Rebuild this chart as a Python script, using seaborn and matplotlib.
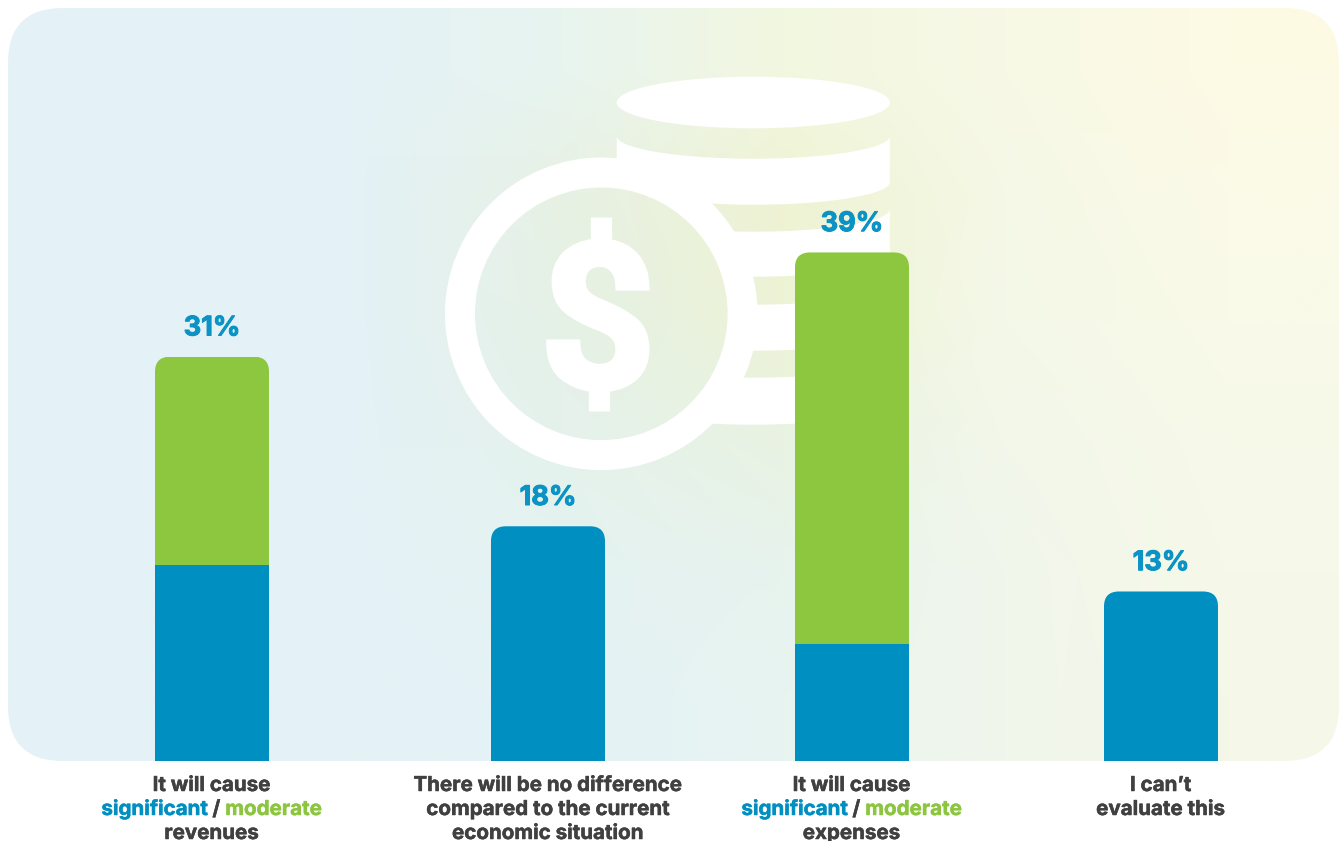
import numpy as np
import pandas as pd
import matplotlib
matplotlib.use("Agg")
import matplotlib.pyplot as plt
import matplotlib.patheffects as pe
from matplotlib.colors import to_rgb
from matplotlib.patches import Circle, Ellipse, FancyBboxPatch, Polygon
import seaborn as sns

# Survey shares, in percent
significant = [15, 18, 9, 13]
moderate = [16, 0, 30, 0]
label_lines = [
    ["It will cause", "significant / moderate", "revenues"],
    ["There will be no difference", "compared to the current", "economic situation"],
    ["It will cause", "significant / moderate", "expenses"],
    ["I can’t", "evaluate this"],
]

# Layout, in pixels
W, H = 1341, 841
BASELINE = 761
PX_PER_PCT = 13.04
centers = [212, 548, 852, 1161]
BAR_W = 114
BLUE, GREEN, GREY = "#008fc1", "#8dc63f", "#404040"
FONT = "Inter"

# Panel backdrop colours on a coarse grid (rows top to bottom, columns left to right)
wash_rows = [
    ["#e4f2f7", "#e4f2f7", "#e8f4ef", "#f2f7e0", "#f7f9e6", "#fdfae4"],
    ["#e4f2f7", "#e4f2f7", "#e7f1e4", "#eff3d3", "#f5f8e6", "#fbfae8"],
    ["#e4f2f7", "#e4f2f7", "#e5f1e6", "#edf3d6", "#f4f8e8", "#f9fae8"],
    ["#e4f2f7", "#e4f2f7", "#e5f2ec", "#e9f3e3", "#f2f7ea", "#f7f9e9"],
    ["#e4f2f7", "#e4f2f7", "#e4f2f2", "#e7f3ed", "#f1f6ec", "#f6f9e9"],
    ["#e4f2f7", "#e4f2f7", "#e4f2f6", "#e8f4f1", "#f1f6ec", "#f5f8e8"],
]
wash = np.array([[to_rgb(c) for c in row] for row in wash_rows])

sns.set_theme(style="white")
plt.rcParams["font.family"] = [FONT, "DejaVu Sans"]
fig = plt.figure(figsize=(W / 100, H / 100), dpi=100, facecolor="white")

# Backdrop axes use pixel coordinates with y pointing down
bg = fig.add_axes([0, 0, 1, 1], zorder=0)
bg.set_xlim(0, W)
bg.set_ylim(H, 0)
bg.axis("off")

panel = FancyBboxPatch((8, 8), 1331, BASELINE - 8,
                       boxstyle="round,pad=0,rounding_size=55", transform=bg.transData)
panel_im = bg.imshow(wash, extent=(8, 1339, BASELINE, 8), interpolation="bilinear", aspect="auto")
panel_im.set_clip_path(panel)

# Stack of coins behind the chart
cx, a = 753.3, 136.6
depth = 22.7
t = np.linspace(0, np.pi, 80)
for top, bottom in [(136, 182), (209, 254), (282, 328), (355, 402)]:
    upper = np.column_stack([cx + a * np.cos(t), top + depth * np.sin(t)])
    lower = np.column_stack([cx + a * np.cos(t[::-1]), bottom + depth * np.sin(t[::-1])])
    bg.add_patch(Polygon(np.vstack([upper, lower]), closed=True, fc="white", ec="none", zorder=3))
bg.add_patch(Ellipse((cx, 102.5), 2 * a, 51.6, fc="white", ec="none", zorder=3))

# Front coin with a dollar sign
coin = (601.3, 313.8)
bg.add_patch(Circle(coin, 156.3, fc="white", ec="none", zorder=4))
face = Circle(coin, 126.3, transform=bg.transData)
face_im = bg.imshow(wash, extent=(8, 1339, BASELINE, 8), interpolation="bilinear",
                    aspect="auto", zorder=5)
face_im.set_clip_path(face)
bg.text(598, 332, "$", color="white", fontsize=146, fontweight="bold", family=["Roboto"],
        ha="center", va="center", zorder=6,
        path_effects=[pe.withStroke(linewidth=4, foreground="white", joinstyle="miter")])
bg.set_xlim(0, W)
bg.set_ylim(H, 0)

# Stacked bars on a transparent axes sharing the panel baseline
ax = fig.add_axes([0, (H - BASELINE) / H, 1, BASELINE / H], zorder=1)
ax.patch.set_alpha(0)
df = pd.DataFrame({"center": centers, "significant": significant, "moderate": moderate})
rel_width = BAR_W / np.diff(centers).min()
sns.barplot(df, x="center", y="significant", native_scale=True, width=rel_width,
            color=BLUE, saturation=1, linewidth=0, ax=ax)
sns.barplot(df, x="center", y="moderate", native_scale=True, width=rel_width,
            bottom=df["significant"].to_numpy(),
            color=GREEN, saturation=1, linewidth=0, ax=ax)
ax.set_xlim(0, W)
ax.set_ylim(0, BASELINE / PX_PER_PCT)
ax.axis("off")

# Round the top corners of each stack
blue_bars, green_bars = ax.containers[0], ax.containers[1]
totals = [s + m for s, m in zip(significant, moderate)]
for b, g, total in zip(blue_bars, green_bars, totals):
    top_px = BASELINE - total * PX_PER_PCT
    shape = FancyBboxPatch((b.get_x(), top_px), BAR_W, total * PX_PER_PCT + 40,
                           boxstyle="round,pad=0,rounding_size=15", transform=bg.transData)
    b.set_clip_path(shape)
    g.set_clip_path(shape)

value_labels = ax.bar_label(green_bars, labels=[f"{v}%" for v in totals], padding=11,
                            color="#0a93c4", fontsize=19.5, fontweight="bold",
                            family=[FONT, "DejaVu Sans"])
for lab in value_labels:
    lab.set_path_effects([pe.withStroke(linewidth=0.7, foreground="#0a93c4")])

# Category captions, with the two severity words coloured like the bars
LABEL_SIZE = 14.8
renderer = fig.canvas.get_renderer()


def advance(s):
    # Width of a string including its outer spaces, measured between two guard letters
    probe = bg.text(0, 0, "x" + s + "x", fontsize=LABEL_SIZE, fontweight="bold")
    guard = bg.text(0, 0, "xx", fontsize=LABEL_SIZE, fontweight="bold")
    w = probe.get_window_extent(renderer).width - guard.get_window_extent(renderer).width
    probe.remove()
    guard.remove()
    return w


def caption(x, y, s, color, ha):
    bg.text(x, y, s, color=color, fontsize=LABEL_SIZE, fontweight="bold", va="baseline", ha=ha,
            zorder=7, path_effects=[pe.withStroke(linewidth=0.35, foreground=color)])


for xc, lines in zip(centers, label_lines):
    for i, line in enumerate(lines):
        y = 791 + 24 * i
        if " / " in line:
            first, second = line.split(" / ")
            pieces = [(first, BLUE), (" / ", GREY), (second, "#8cc63f")]
            widths = [advance(p) for p, _ in pieces]
            x = xc - 0.5 - sum(widths) / 2
            for (p, c), w in zip(pieces, widths):
                caption(x, y, p, c, "left")
                x += w
        else:
            caption(xc - 0.5, y, line, GREY, "center")

fig.savefig("out.png", dpi=100, facecolor="white")
